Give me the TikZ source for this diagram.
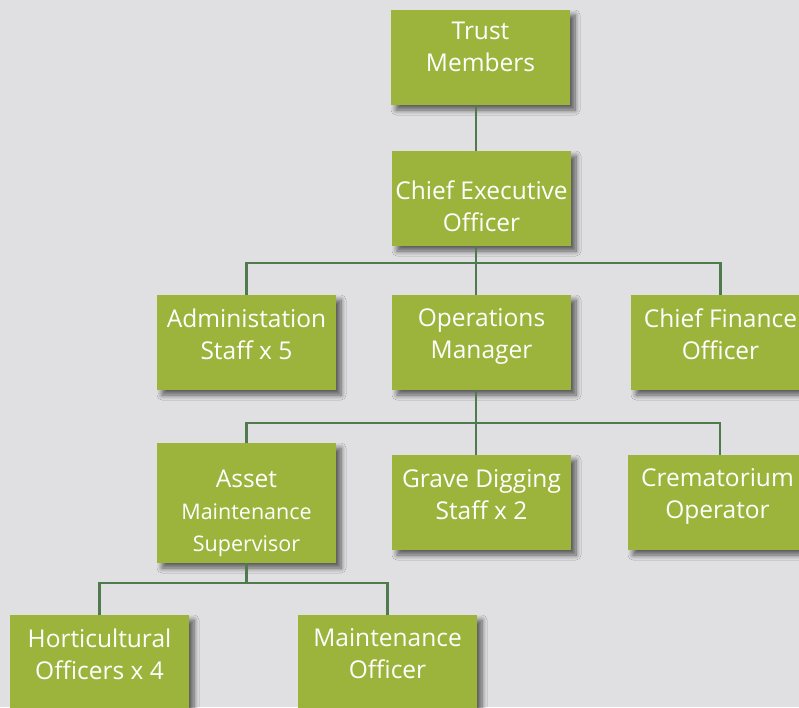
\documentclass[tikz,border=0pt]{standalone}
\usepackage{fontspec}
\setmainfont{Open Sans}
\usepackage{tikz}
\usetikzlibrary{positioning, shadows, shadows.blur, calc}
\definecolor{pageGrey}{RGB}{224, 224, 226}
\definecolor{leafGreen}{RGB}{156, 180, 60}
\definecolor{branchGreen}{RGB}{79, 122, 78}
\newcommand{\subline}{\fontsize{21.5}{32}\selectfont}

\begin{document}
\begin{tikzpicture}[
    x=1pt, y=-1pt,
    role/.style={rectangle, fill=leafGreen, minimum width=179pt, minimum height=95pt, inner sep=0pt,
        blur shadow={shadow xshift=5pt, shadow yshift=-5pt, shadow blur radius=5pt, shadow blur steps=8, shadow opacity=60}},
    caption/.style={text=white, align=center, inner sep=0pt, font=\fontsize{24.5}{32}\selectfont},
    link/.style={draw=branchGreen, line width=2.5pt},
]
% CANVAS
\fill[pageGrey] (0,0) rectangle (799,707);
\useasboundingbox (0,0) rectangle (799,707);
% BOARD AND CEO
\node[role] (trust) at (480.5, 57.5) {};
\node[caption] (trust-txt) at ([yshift=11pt]trust.center) {Trust\\Members};
\node[role] (ceo) at (481.5, 198.5) {};
\node[caption] (ceo-txt) at ([yshift=-7.5pt]ceo.center) {Chief Executive\\Officer};
% SECOND TIER
\node[role] (admin) at (246.5, 342.5) {};
\node[caption] (admin-txt) at ([yshift=8pt]admin.center) {Administation\\Staff x 5};
\node[role] (ops) at (481.5, 342.5) {};
\node[caption] (ops-txt) at ([yshift=6pt]ops.center) {Operations\\Manager};
\node[role] (cfo) at (720.5, 342.5) {};
\node[caption] (cfo-txt) at ([yshift=8pt]cfo.center) {Chief Finance\\Officer};
% THIRD TIER
\node[role, minimum height=120pt] (asset) at (246.5, 503) {};
\node[caption] (asset-txt) at ([yshift=-10pt]asset.center) {Asset\\{\subline Maintenance}\\{\subline Supervisor}};
\node[role] (grave) at (481.5, 502.5) {};
\node[caption] (grave-txt) at ([yshift=8pt]grave.center) {Grave Digging\\Staff x 2};
\node[role] (crem) at (717.5, 502.5) {};
\node[caption] (crem-txt) at ([yshift=6pt]crem.center) {Crematorium\\Operator};
% FOURTH TIER
\node[role] (hort) at (99.5, 662.5) {};
\node[caption] (hort-txt) at ([yshift=8.5pt]hort.center) {Horticultural\\Officers x 4};
\node[role] (maint) at (387.5, 662.5) {};
\node[caption] (maint-txt) at ([yshift=8.5pt]maint.center) {Maintenance\\Officer};
% CONNECTORS
\coordinate (spine) at (476, 0);
\coordinate (busCeo) at (476, 263);
\coordinate (busOps) at (476, 423);
\coordinate (busAsset) at (246.5, 583);
\draw[link] (trust.south -| spine) -- (ceo.north -| spine);
\draw[link] (ceo.south -| spine) -- (busCeo);
\draw[link] (admin.north) |- (busCeo) -| (cfo.north);
\draw[link] (busCeo) -- (ops.north -| spine);
\draw[link] (ops.south -| spine) -- (busOps);
\draw[link] (asset.north) |- (busOps) -| ([xshift=2.5pt]crem.north);
\draw[link] (busOps) -- (grave.north -| spine);
\draw[link] (asset.south) -- (busAsset);
\draw[link] (hort.north) |- (busAsset) -| (maint.north);
\end{tikzpicture}
\end{document}
